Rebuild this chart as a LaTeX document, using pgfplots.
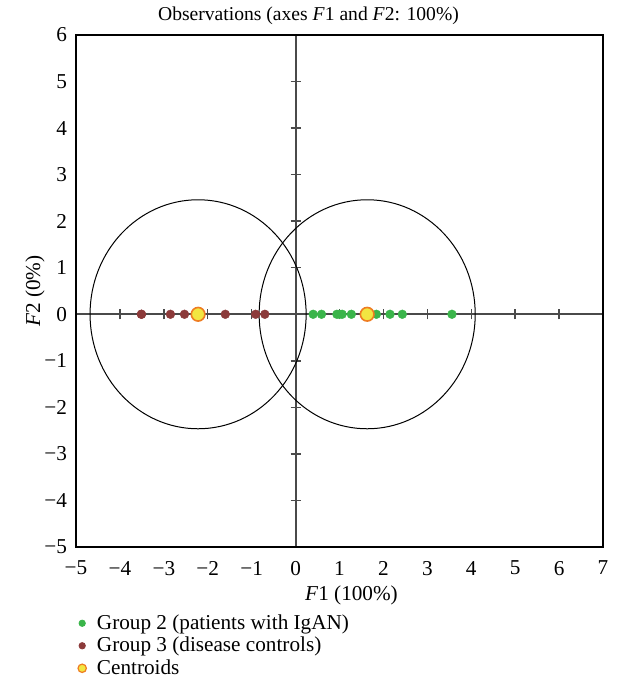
\documentclass[border=0pt]{standalone}
\usepackage{fontspec}
\setmainfont{Liberation Serif}
\usepackage{pgfplots}
\pgfplotsset{compat=1.18}
\definecolor{grp2}{HTML}{3AB54A}
\definecolor{grp3}{HTML}{8C3A3A}
\definecolor{cfill}{HTML}{F2E641}
\definecolor{cdraw}{HTML}{EE7D22}
\definecolor{axgray}{HTML}{4A4A4A}

\begin{document}
\begin{tikzpicture}[font=\fontsize{10.6}{11}\selectfont]
% centre axes with ticks (drawn first, below the data)
\begin{axis}[scale only axis, width=263.5pt, height=256pt,
  xmin=-5, xmax=7, ymin=-5, ymax=6,
  xtick={-4,...,6}, ytick={-4,...,5},
  xticklabels={}, yticklabels={},
  axis lines=middle, axis line style={-, axgray, line width=1pt},
  tick style={axgray, line width=0.7pt},
  tick align=center, major tick length=5pt,
]
\end{axis}
% frame with tick labels and data
\begin{axis}[name=main, scale only axis, width=263.5pt, height=256pt,
  xmin=-5, xmax=7, ymin=-5, ymax=6,
  xtick={-5,...,7}, ytick={-5,...,6},
  xticklabels={−5,−4,−3,−2,−1,0,1,2,3,4,5,6,7},
  yticklabels={−5,−4,−3,−2,−1,0,1,2,3,4,5,6},
  major tick length=0pt,
  xticklabel style={yshift=-3.5pt}, yticklabel style={xshift=-1pt},
  title={Observations (axes \textit{F}1 and \textit{F}2: 100\%)},
  title style={yshift=-4.5pt, xshift=-15.5pt, font=\fontsize{9.8}{11}\selectfont},
  xlabel={\textit{F}1 (100\%)}, ylabel={\textit{F}2 (0\%)},
  xlabel style={yshift=1.5pt, xshift=6pt}, ylabel style={yshift=-7pt},
  axis line style={line width=0.6pt},
  legend style={at={(0,0)}, anchor=north west, xshift=-2.5pt, yshift=-29.5pt,
    draw=none, fill=none, row sep=-1.6pt, column sep=3pt,
    font=\fontsize{10.6}{11}\selectfont},
  legend cell align=left,
]
\draw[black, line width=0.5pt] (axis cs:-2.22,0) circle[radius=2.46];
\draw[black, line width=0.5pt] (axis cs:1.63,0) circle[radius=2.46];
\addplot[only marks, mark=*, mark size=2.2pt, mark options={draw=grp2, fill=grp2, line width=0.2pt},
  legend image code/.code={\fill[grp2] (0pt,0pt) circle (1.6pt);}] coordinates {
  (0.40,0) (0.59,0) (0.94,0) (1.00,0) (1.06,0) (1.27,0) (1.84,0) (2.15,0) (2.43,0) (3.56,0)};
\addlegendentry{Group 2 (patients with IgAN)}
\addplot[only marks, mark=*, mark size=2.2pt, mark options={draw=grp3, fill=grp3, line width=0.2pt},
  legend image code/.code={\fill[grp3] (0pt,0pt) circle (1.6pt);}] coordinates {
  (-3.51,0) (-3.51,0) (-2.85,0) (-2.53,0) (-1.60,0) (-0.91,0) (-0.70,0)};
\addlegendentry{Group 3 (disease controls)}
\addplot[only marks, mark=*, mark size=3.4pt, mark options={draw=cdraw, fill=cfill, line width=0.8pt},
  legend image code/.code={\draw[draw=cdraw, fill=cfill, line width=0.6pt] (0pt,0pt) circle (2.1pt);}] coordinates {
  (-2.22,0) (1.63,0)};
\addlegendentry{Centroids}
\end{axis}
\pgfresetboundingbox
\path ([xshift=-38pt,yshift=-68.5pt]main.south west) rectangle ([xshift=6.5pt,yshift=17.5pt]main.north east);
\end{tikzpicture}
\end{document}
